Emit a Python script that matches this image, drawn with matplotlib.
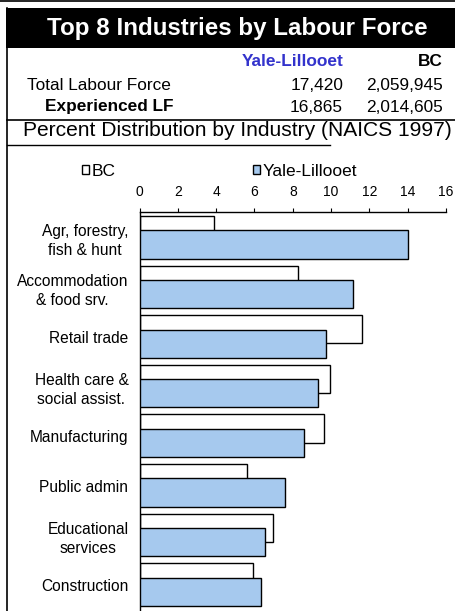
import numpy as np
import matplotlib
matplotlib.use("Agg")
import matplotlib.pyplot as plt
from matplotlib.patches import Rectangle
from matplotlib.lines import Line2D

plt.rcParams["font.family"] = ["Liberation Sans", "DejaVu Sans"]

# data
industries = ["Agr, forestry,\nfish & hunt", "Accommodation\n& food srv.", "Retail trade",
              "Health care &\nsocial assist.", "Manufacturing", "Public admin",
              "Educational\nservices", "Construction"]
bc = [3.9, 8.3, 11.6, 9.95, 9.65, 5.6, 6.95, 5.9]
yale = [14.0, 11.15, 9.75, 9.3, 8.6, 7.6, 6.55, 6.35]

regions = ["Yale-Lillooet", "BC"]
total_lf = ["17,420", "2,059,945"]
experienced_lf = ["16,865", "2,014,605"]

W, H = 455, 611
fig = plt.figure(figsize=(W / 100, H / 100), dpi=100)

def fx(x):
    return x / W

def fy(y):
    return 1 - y / H

# header block
fig.add_artist(Line2D([0, 1], [fy(0.7), fy(0.7)], color="black", lw=1.2))
fig.add_artist(Rectangle((fx(6), fy(48)), 1 - fx(6), (48 - 8) / H,
                         facecolor="black", edgecolor="none"))
fig.text(fx(237), fy(28), "Top 8 Industries by Labour Force", color="white",
         fontsize=17.4, fontweight="bold", ha="center", va="center")
fig.add_artist(Line2D([fx(6.5), fx(6.5)], [fy(8), 0], color="black", lw=1.2))
fig.add_artist(Line2D([fx(6.5), 1], [fy(120), fy(120)], color="black", lw=1.2))
fig.add_artist(Line2D([fx(6.5), fx(330)], [fy(145), fy(145)], color="black", lw=1.0))

fs = 12.4
fig.text(fx(343), fy(62), regions[0], color="#3333CC", fontsize=fs,
         fontweight="bold", ha="right", va="center")
fig.text(fx(443), fy(62), regions[1], color="black", fontsize=fs,
         fontweight="bold", ha="right", va="center")
fig.text(fx(27), fy(85), "Total Labour Force", fontsize=fs, ha="left", va="center")
fig.text(fx(45), fy(107), "Experienced LF", fontsize=fs, fontweight="bold",
         ha="left", va="center")
for xr, a, b in zip([343, 443], total_lf, experienced_lf):
    fig.text(fx(xr), fy(85), a, fontsize=fs, ha="right", va="center")
    fig.text(fx(xr), fy(107), b, fontsize=fs, ha="right", va="center")
fig.text(fx(237), fy(131), "Percent Distribution by Industry (NAICS 1997)",
         fontsize=15.1, ha="center", va="center")

# chart
ax = fig.add_axes([fx(139.5), 0, fx(446) - fx(139.5), (H - 212) / H])
y = np.arange(len(industries))
h = 0.57
b1 = ax.barh(y - 0.15, bc, height=h, color="white", edgecolor="black", lw=1.0,
             label="BC", zorder=2)
b2 = ax.barh(y + 0.14, yale, height=h, color="#A6C9EE", edgecolor="black", lw=1.0,
             label="Yale-Lillooet", zorder=3)

ax.set_xlim(0, 16)
ax.set_ylim(7.53, -0.514)
ax.set_xticks(range(0, 17, 2))
ax.xaxis.tick_top()
ax.tick_params(axis="x", direction="out", length=3, width=0.8, labelsize=10, pad=6)
ax.set_yticks(y)
ax.set_yticklabels(industries, multialignment="center", fontsize=11.2, linespacing=1.35)
ax.tick_params(axis="y", length=0, pad=8)
for s in ["right", "bottom"]:
    ax.spines[s].set_visible(False)
for s in ["left", "top"]:
    ax.spines[s].set_linewidth(1.0)

fig.legend([b1, b2], ["BC", "Yale-Lillooet"], loc="center left",
           bbox_to_anchor=(fx(82), fy(171)), ncol=2, frameon=False, fontsize=12.5,
           handlelength=0.42, handleheight=0.42, handletextpad=0.15,
           columnspacing=7.9, borderpad=0, borderaxespad=0)

fig.savefig("out.png", dpi=100)
